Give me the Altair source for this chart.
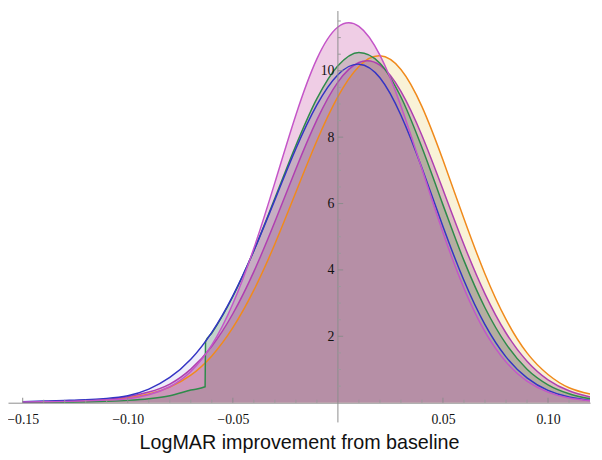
import altair as alt
import pandas as pd

# ---- data ----
X = [-0.15, -0.14, -0.13, -0.12, -0.11, -0.10, -0.09, -0.08, -0.07, -0.06,
     -0.05, -0.04, -0.03, -0.02, -0.01, 0.00, 0.01, 0.02, 0.03, 0.04,
     0.05, 0.06, 0.07, 0.08, 0.09, 0.10, 0.11, 0.12]

MAGENTA = [0.02, 0.03, 0.04, 0.06, 0.08, 0.12, 0.24, 0.48, 0.94, 1.74,
           2.98, 4.65, 6.63, 8.67, 10.36, 11.32, 11.34, 10.47, 8.94, 7.04,
           5.13, 3.45, 2.14, 1.23, 0.65, 0.32, 0.14, 0.06]

BLUE = [0.03, 0.05, 0.07, 0.09, 0.13, 0.21, 0.41, 0.76, 1.31, 2.12,
        3.22, 4.58, 6.11, 7.65, 8.97, 9.88, 10.20, 9.79, 8.66, 7.07,
        5.31, 3.68, 2.35, 1.38, 0.75, 0.37, 0.17, 0.07]

PURPLE = [0.02, 0.03, 0.05, 0.07, 0.10, 0.18, 0.32, 0.56, 1.01, 1.70,
          2.68, 3.95, 5.45, 7.04, 8.52, 9.66, 10.25, 10.17, 9.38, 8.05,
          6.42, 4.76, 3.28, 2.10, 1.25, 0.69, 0.36, 0.17]

ORANGE = [0.02, 0.03, 0.04, 0.05, 0.08, 0.14, 0.26, 0.47, 0.83, 1.41,
          2.26, 3.39, 4.78, 6.34, 7.89, 9.22, 10.13, 10.45, 10.04, 8.92,
          7.31, 5.54, 3.88, 2.51, 1.50, 0.85, 0.45, 0.26]

GREEN_X = [-0.15, -0.14, -0.13, -0.12, -0.11, -0.10, -0.09, -0.08, -0.07, -0.0632,
           -0.063, -0.06, -0.05, -0.04, -0.03, -0.02, -0.01, 0.00, 0.01, 0.02,
           0.03, 0.04, 0.05, 0.06, 0.07, 0.08, 0.09, 0.10, 0.11, 0.12]
GREEN = [0.0, 0.0, 0.01, 0.02, 0.04, 0.07, 0.12, 0.21, 0.38, 0.48,
         1.84, 2.10, 3.20, 4.58, 6.16, 7.75, 9.16, 10.15, 10.55, 10.23,
         9.21, 7.69, 5.96, 4.28, 2.86, 1.77, 1.01, 0.54, 0.27, 0.12]

X_TICK_VALUES = [-0.15, -0.10, -0.05, 0.05, 0.10]
X_MINOR = [-0.14, -0.13, -0.12, -0.11, -0.09, -0.08, -0.07, -0.06, -0.04, -0.03,
           -0.02, -0.01, 0.01, 0.02, 0.03, 0.04, 0.06, 0.07, 0.08, 0.09, 0.11]
Y_TICK_VALUES = [2, 4, 6, 8, 10]
Y_MINOR = [0.5, 1, 1.5, 2.5, 3, 3.5, 4.5, 5, 5.5, 6.5, 7, 7.5, 8.5, 9, 9.5,
           10.5, 11, 11.5]
X_TITLE = "LogMAR improvement from baseline"

# ---- layout ----
W, H = 590, 397
X_DOMAIN = [-0.157, 0.12]
Y_DOMAIN = [0, 11.8]
zero_px = (0 - X_DOMAIN[0]) / (X_DOMAIN[1] - X_DOMAIN[0]) * W

xs = alt.Scale(domain=X_DOMAIN, nice=False, zero=False)
ys = alt.Scale(domain=Y_DOMAIN, nice=False, zero=False)

x_axis = alt.Axis(values=X_TICK_VALUES, format=".2f", ticks=False, tickSize=0,
                  domainColor="#8c8c8c", domainWidth=1, grid=False,
                  labelFont="Liberation Serif", labelFontSize=14, labelColor="#111111",
                  labelPadding=10, labelFlush=False,
                  title=X_TITLE, titleFont="Liberation Sans", titleFontSize=20,
                  titleFontWeight="normal", titleColor="#111111", titlePadding=6)
y_axis = alt.Axis(values=Y_TICK_VALUES, format="d", offset=-zero_px, domain=False,
                  ticks=False, tickSize=0, grid=False, labelPadding=4, zindex=2,
                  labelFont="Liberation Serif", labelFontSize=14, labelColor="#111111",
                  title=None)


def xenc(field="x"):
    return alt.X(f"{field}:Q", scale=xs, axis=x_axis)


def yenc(field="y"):
    return alt.Y(f"{field}:Q", scale=ys, axis=y_axis)


# name, x, y, line colour, fill colour, fill opacity, interpolation
series = [
    ("orange", X, ORANGE, "#f08a1c", "#ecd682", 0.32, "natural"),
    ("purple", X, PURPLE, "#b03fb0", "#963c8c", 0.30, "natural"),
    ("green", GREEN_X, GREEN, "#2e8b4a", "#4a8a44", 0.26, "monotone"),
    ("blue", X, BLUE, "#3434c4", "#5a50c8", 0.10, "natural"),
    ("magenta", X, MAGENTA, "#c455c8", "#cd64af", 0.32, "natural"),
]

areas = []
lines = []
for name, xv, yv, lc, fc, op, interp in series:
    df = pd.DataFrame({"x": xv, "y": yv})
    areas.append(
        alt.Chart(df).mark_area(interpolate=interp, color=fc, opacity=op, clip=True)
        .encode(x=xenc(), y=yenc())
    )
    lines.append(
        alt.Chart(df).mark_line(interpolate=interp, color=lc, strokeWidth=1.5, clip=True)
        .encode(x=xenc(), y=yenc())
    )

# y axis line through x = 0 (extends slightly below the x axis as in the reference)
yline = alt.Chart(pd.DataFrame({"x": [0]})).mark_rule(color="#8c8c8c", strokeWidth=1).encode(
    x=xenc(), y=alt.value(0), y2=alt.value(H + 20)
)

xmaj = alt.Chart(pd.DataFrame({"x": X_TICK_VALUES})).mark_rule(color="#8c8c8c").encode(
    x=xenc(), y=alt.value(H), y2=alt.value(H - 5)
)
xmin = alt.Chart(pd.DataFrame({"x": X_MINOR})).mark_rule(color="#9a9a9a").encode(
    x=xenc(), y=alt.value(H), y2=alt.value(H - 3)
)
ymaj = alt.Chart(pd.DataFrame({"y": Y_TICK_VALUES, "x": [0] * len(Y_TICK_VALUES),
                               "x2": [0.0025] * len(Y_TICK_VALUES)})).mark_rule(color="#8c8c8c").encode(
    x=xenc(), x2="x2:Q", y=yenc()
)
ymin = alt.Chart(pd.DataFrame({"y": Y_MINOR, "x": [0] * len(Y_MINOR),
                               "x2": [0.0014] * len(Y_MINOR)})).mark_rule(color="#9a9a9a").encode(
    x=xenc(), x2="x2:Q", y=yenc()
)

chart = alt.layer(*areas, *lines, yline, xmaj, xmin, ymaj, ymin).properties(
    width=W, height=H,
    padding={"left": 0, "top": 0, "right": 4, "bottom": 55},
    autosize=alt.AutoSizeParams(type="none"),
    background="white",
).configure_view(stroke=None)

chart.save("out.html", embed_options={"renderer": "svg", "actions": False})
